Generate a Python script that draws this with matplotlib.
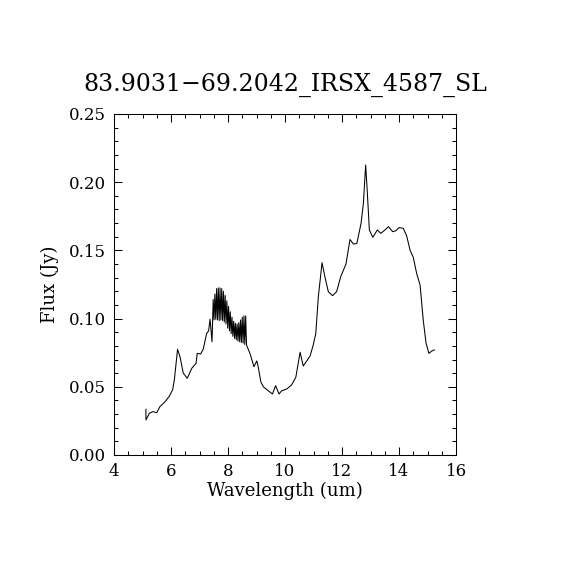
import numpy as np
import matplotlib
matplotlib.use('Agg')
import matplotlib.pyplot as plt
from matplotlib.ticker import MultipleLocator

title = '83.9031\u221269.2042_IRSX_4587_SL'

# wavelength (um) and flux (Jy)
wave = [5.12, 5.12, 5.24, 5.36, 5.50, 5.61, 5.79, 5.94, 6.06, 6.12, 6.23,
        6.32, 6.43, 6.57, 6.73, 6.88, 6.92, 7.04, 7.13, 7.25, 7.32, 7.37,
        7.44, 7.48,
        # noisy stretch, values jump up and down
        7.51, 7.54, 7.57, 7.60, 7.63, 7.66, 7.69, 7.72, 7.75, 7.78,
        7.81, 7.84, 7.87, 7.90, 7.93, 7.96, 7.99, 8.02, 8.05, 8.08,
        8.11, 8.14, 8.17, 8.20, 8.23, 8.26, 8.29, 8.32, 8.35, 8.38,
        8.41, 8.44, 8.47, 8.50, 8.53, 8.56, 8.59, 8.62, 8.65,
        8.77, 8.91, 9.01, 9.06, 9.15, 9.24, 9.42, 9.56, 9.67, 9.79,
        9.88, 10.06, 10.23, 10.38, 10.53, 10.64, 10.88, 10.99, 11.08, 11.17,
        11.30, 11.40, 11.52, 11.67, 11.81, 11.96, 12.14, 12.28, 12.40, 12.52,
        12.67, 12.75, 12.83, 12.89, 12.96, 13.08, 13.24, 13.36, 13.51, 13.63,
        13.78, 13.89, 14.00, 14.15, 14.27, 14.39, 14.50, 14.62, 14.74, 14.85,
        14.95, 15.05, 15.15, 15.24]
flux = [0.0335, 0.0257, 0.0305, 0.0318, 0.0310, 0.0354, 0.0390, 0.0430, 0.0480, 0.0555, 0.0775,
        0.0716, 0.0600, 0.0562, 0.0636, 0.0672, 0.0745, 0.0740, 0.0775, 0.0890, 0.0910, 0.0995,
        0.0830, 0.1140,
        0.0990, 0.1180, 0.0995, 0.1220, 0.0990, 0.1225, 0.0985, 0.1225, 0.0990, 0.1220,
        0.0985, 0.1200, 0.0975, 0.1170, 0.0960, 0.1130, 0.0930, 0.1090, 0.0910, 0.1050,
        0.0890, 0.1010, 0.0870, 0.0980, 0.0855, 0.0965, 0.0845, 0.0960, 0.0835, 0.0970,
        0.0830, 0.0990, 0.0825, 0.1010, 0.0820, 0.1020, 0.0810, 0.1020, 0.0806,
        0.0745, 0.0647, 0.0690, 0.0647, 0.0537, 0.0500, 0.0470, 0.0447, 0.0508, 0.0447,
        0.0470, 0.0484, 0.0513, 0.0570, 0.0753, 0.0652, 0.0726, 0.0806, 0.0890, 0.1160,
        0.1410, 0.1307, 0.1197, 0.1168, 0.1197, 0.1310, 0.1400, 0.1580, 0.1547, 0.1550,
        0.1700, 0.1845, 0.2126, 0.1920, 0.1650, 0.1596, 0.1650, 0.1625, 0.1650, 0.1674,
        0.1637, 0.1644, 0.1667, 0.1662, 0.1606, 0.1500, 0.1450, 0.1330, 0.1246, 0.0990,
        0.0819, 0.0745, 0.0762, 0.0770]

plt.rcParams['font.family'] = ['DejaVu Serif']

fig = plt.figure(figsize=(5.7, 5.7), dpi=100)
ax = fig.add_axes([0.2, 0.2018, 0.6, 0.5982])
ax.plot(wave, flux, color='black', linewidth=0.75)

ax.set_xlim(4, 16)
ax.set_ylim(0, 0.25)
ax.xaxis.set_major_locator(MultipleLocator(2))
ax.xaxis.set_minor_locator(MultipleLocator(0.5))
ax.yaxis.set_major_locator(MultipleLocator(0.05))
ax.yaxis.set_minor_locator(MultipleLocator(0.01))
ax.yaxis.set_major_formatter(matplotlib.ticker.FormatStrFormatter('%.2f'))
ax.tick_params(which='both', direction='in', top=True, right=True,
               width=0.75, labelsize=12, pad=6)
ax.tick_params(which='major', length=6)
ax.tick_params(which='minor', length=3)
for s in ax.spines.values():
    s.set_linewidth(0.75)

ax.set_xlabel('Wavelength (um)', fontsize=13, labelpad=1)
ax.set_ylabel('Flux (Jy)', fontsize=13, labelpad=7)
ax.set_title(title, fontsize=17, pad=17)

fig.savefig('out.png', dpi=100)
